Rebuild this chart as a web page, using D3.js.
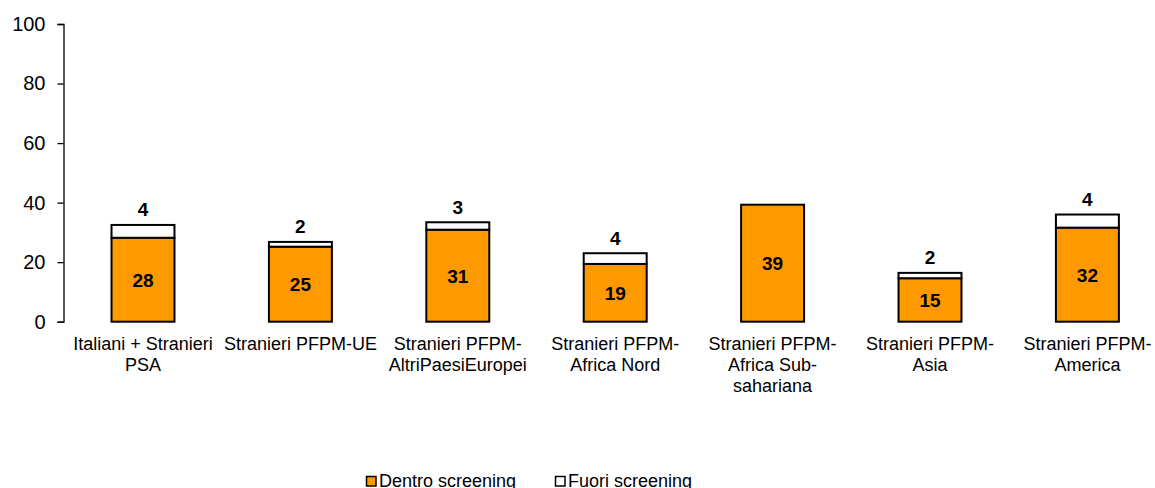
<!DOCTYPE html>
<html><head><meta charset="utf-8">
<script src="https://cdn.jsdelivr.net/npm/d3@7"></script>
<style>
body{margin:0;background:#fff;}
svg{display:block;font-family:Arial,"Liberation Sans",sans-serif;}
</style></head>
<body>
<svg id="chart" width="1155" height="488"></svg>
<script>
const categories = [
  ["Italiani + Stranieri","PSA"],
  ["Stranieri PFPM-UE"],
  ["Stranieri PFPM-","AltriPaesiEuropei"],
  ["Stranieri PFPM-","Africa Nord"],
  ["Stranieri PFPM-","Africa Sub-","sahariana"],
  ["Stranieri PFPM-","Asia"],
  ["Stranieri PFPM-","America"]
];
const dentro = [28.2, 25.2, 30.9, 19.4, 39.3, 14.6, 31.6];
const fuori  = [4.3, 1.6, 2.5, 3.6, 0, 1.8, 4.4];
const seriesNames = ["Dentro screening","Fuori screening"];
const yTicks = [0,20,40,60,80,100];

const svg = d3.select("#chart");
const y = d3.scaleLinear().domain([0,100]).range([321.7,24]);
const x = d3.scaleBand().domain(d3.range(categories.length)).range([64.3,1166.1]).paddingInner(0.6).paddingOuter(0.3);

const axis = svg.append("g").attr("transform","translate(63.5,0)")
  .call(d3.axisLeft(y).tickValues(yTicks).tickSize(6).tickPadding(12).tickFormat(d3.format("d")));
axis.select(".domain").attr("stroke","#000").attr("stroke-width",1.3);
axis.selectAll(".tick line").attr("stroke","#000").attr("stroke-width",1.3);
axis.selectAll(".tick text").attr("font-size","20px").attr("font-family","Arial,'Liberation Sans',sans-serif").attr("fill","#000");

const g = svg.append("g");
// dentro bars
g.selectAll("rect.d").data(dentro).join("rect").attr("class","d")
  .attr("x",(d,i)=>x(i)).attr("width",x.bandwidth())
  .attr("y",d=>y(d)).attr("height",d=>y(0)-y(d))
  .attr("fill","#FF9900").attr("stroke","#000").attr("stroke-width",2);
// fuori bars
g.selectAll("rect.f").data(fuori).join("rect").attr("class","f")
  .filter(d=>d>0)
  .attr("x",(d,i)=>x(i)).attr("width",x.bandwidth())
  .attr("y",(d,i)=>y(dentro[i]+d)).attr("height",(d,i)=>y(dentro[i])-y(dentro[i]+d))
  .attr("fill","#fff").attr("stroke","#000").attr("stroke-width",2);
// redraw fuori correctly by index
g.selectAll("rect.f").remove();
fuori.forEach((d,i)=>{
  if(d<=0) return;
  g.append("rect").attr("x",x(i)).attr("width",x.bandwidth())
   .attr("y",y(dentro[i]+d)).attr("height",y(dentro[i])-y(dentro[i]+d))
   .attr("fill","#fff").attr("stroke","#000").attr("stroke-width",2);
});
// labels
dentro.forEach((d,i)=>{
  g.append("text").attr("x",x(i)+x.bandwidth()/2).attr("y",(y(d)+y(0))/2+7)
   .attr("text-anchor","middle").attr("font-size","19px").attr("font-weight","bold").text(Math.round(d));
});
fuori.forEach((d,i)=>{
  if(d<=0) return;
  g.append("text").attr("x",x(i)+x.bandwidth()/2).attr("y",y(dentro[i]+d)-8.5)
   .attr("text-anchor","middle").attr("font-size","19px").attr("font-weight","bold").text(Math.round(d));
});
// category labels
categories.forEach((lines,i)=>{
  const t = svg.append("text").attr("text-anchor","middle").attr("font-size","18px");
  lines.forEach((l,j)=>{
    t.append("tspan").attr("x",x(i)+x.bandwidth()/2).attr("y",350+j*21).text(l);
  });
});
// legend
const legend = [{name:seriesNames[0],fill:"#FF9900",x:366.5,tx:379},{name:seriesNames[1],fill:"#fff",x:555.5,tx:568}];
legend.forEach(l=>{
  svg.append("rect").attr("x",l.x).attr("y",476.5).attr("width",9.5).attr("height",9.5)
    .attr("fill",l.fill).attr("stroke","#000").attr("stroke-width",1.5);
  svg.append("text").attr("x",l.tx).attr("y",487).attr("font-size","18px").text(l.name);
});
</script>
</body></html>
